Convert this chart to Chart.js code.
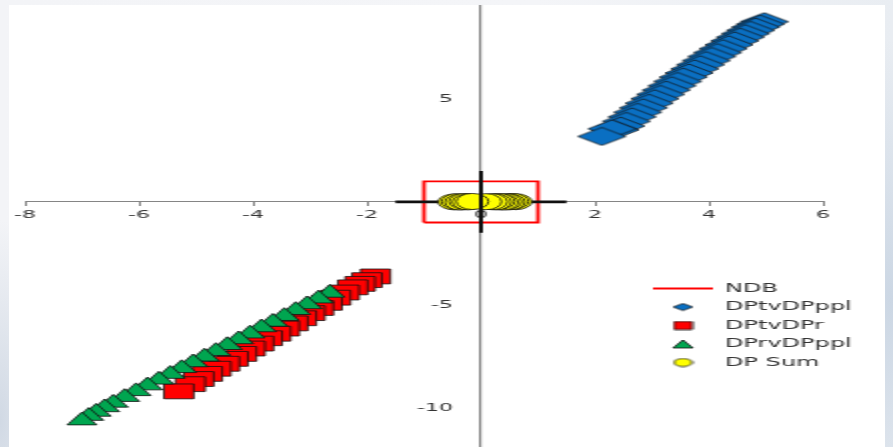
<!DOCTYPE html>
<html>
<head>
<meta charset="utf-8">
<script src="https://cdn.jsdelivr.net/npm/chart.js@4.4.1/dist/chart.umd.min.js"></script>
<style>
  html, body { margin: 0; padding: 0; }
  body {
    width: 893px; height: 447px; overflow: hidden; position: relative;
    background:
      radial-gradient(ellipse 120px 260px at 893px 300px, rgba(200,212,226,0.9), rgba(200,212,226,0) 100%),
      radial-gradient(ellipse 60px 200px at 0px 420px, rgba(205,214,226,0.9), rgba(205,214,226,0) 100%),
      linear-gradient(90deg, #f3f4f7 0%, #f4f5f8 60%, #e9edf2 100%);
  }
  /* the chart is laid out narrow and stretched horizontally */
  #frame {
    position: absolute; left: 9px; top: 5px;
    width: 438px; height: 442px;
    background: #ffffff;
    transform: scale(2, 1); transform-origin: 0 0;
  }
  canvas { display: block; }
</style>
</head>
<body>
<div id="frame"><canvas id="chart" width="438" height="442"></canvas></div>
<script>
// ---- data ----
const seriesNames = ['NDB', 'DPtvDPppl', 'DPtvDPr', 'DPrvDPppl', 'DP Sum'];

// NDB boundary box
const ndbX = [-1, -1, 1, 1, -1];
const ndbY = [-1, 1, 1, -1, -1];

// DPtvDPppl
const dptvDPpplX = [4.97, 4.90, 4.82, 4.73, 4.64, 4.55, 4.45, 4.35, 4.25, 4.15, 4.05, 3.95, 3.85, 3.75, 3.65,
                    3.55, 3.45, 3.35, 3.25, 3.15, 3.05, 2.95, 2.85, 2.75, 2.65, 2.55, 2.45, 2.35, 2.30, 2.12];
const dptvDPpplY = [8.75, 8.63, 8.49, 8.33, 8.17, 8.00, 7.82, 7.63, 7.44, 7.25, 7.06, 6.86, 6.66, 6.46, 6.26,
                    6.06, 5.85, 5.64, 5.43, 5.22, 5.01, 4.79, 4.57, 4.35, 4.13, 3.91, 3.68, 3.50, 3.55, 3.18];

// DPtvDPr
const dptvDPrX = [-1.85, -2.00, -2.12, -2.25, -2.40, -2.55, -2.70, -2.85, -3.00, -3.15, -3.30, -3.45,
                  -3.60, -3.75, -3.90, -4.05, -4.20, -4.35, -4.50, -4.65, -4.80, -4.95, -5.10, -5.30];
const dptvDPrY = [-3.62, -3.80, -3.98, -4.15, -4.40, -4.65, -4.90, -5.15, -5.40, -5.65, -5.90, -6.15,
                  -6.40, -6.62, -6.88, -7.12, -7.38, -7.62, -7.86, -8.10, -8.35, -8.60, -8.85, -9.20];

// DPrvDPppl
const dprvDPpplX = [-2.65, -2.85, -3.05, -3.25, -3.45, -3.65, -3.85, -4.05, -4.25, -4.45, -4.65, -4.85,
                    -5.05, -5.25, -5.45, -5.65, -5.85, -6.05, -6.25, -6.45, -6.60, -6.75, -6.88, -7.00];
const dprvDPpplY = [-4.42, -4.70, -4.98, -5.26, -5.55, -5.83, -6.10, -6.40, -6.68, -6.96, -7.25, -7.52,
                    -7.80, -8.08, -8.36, -8.64, -8.92, -9.20, -9.48, -9.76, -9.98, -10.20, -10.40, -10.62];

// DP Sum
const dpSumX = [0.61, 0.55, 0.49, 0.43, 0.37, 0.31, 0.25, 0.18, -0.47, -0.41, -0.35, -0.28, -0.22, 0.08, -0.15];
const dpSumY = [0.01, 0.02, 0.00, 0.01, -0.01, 0.02, 0.00, 0.01, 0.00, 0.01, -0.01, 0.02, 0.00, 0.01, 0.02];

// cross marking the origin
const crossHX = [-1.5, 1.5];
const crossHY = [0, 0];
const crossVX = [0, 0];
const crossVY = [-1.5, 1.5];

// axes
const xMin = -8, xMax = 6;
const yMin = -11.9, yMax = 9.56;
const xTickValues = [-8, -6, -4, -2, 0, 2, 4, 6];
const yTickValues = [-10, -5, 5];

// ---- helpers ----
const pts = (xs, ys) => xs.map((x, i) => ({ x: x, y: ys[i] }));

// marker images (diamond markers in the plot, all markers in the legend)
function markerImage(shape, w, h, fill, lw) {
  const c = document.createElement('canvas');
  c.width = Math.ceil(w + 2); c.height = Math.ceil(h + 2);
  const g = c.getContext('2d');
  const cx = c.width / 2, cy = c.height / 2;
  g.beginPath();
  if (shape === 'diamond') {
    g.moveTo(cx, cy - h / 2); g.lineTo(cx + w / 2, cy); g.lineTo(cx, cy + h / 2); g.lineTo(cx - w / 2, cy);
  } else if (shape === 'square') {
    g.rect(cx - w / 2, cy - h / 2, w, h);
  } else if (shape === 'triangle') {
    g.moveTo(cx, cy - h / 2); g.lineTo(cx + w / 2, cy + h / 2); g.lineTo(cx - w / 2, cy + h / 2);
  } else {
    g.ellipse(cx, cy, w / 2, h / 2, 0, 0, Math.PI * 2);
  }
  g.closePath();
  g.fillStyle = fill; g.fill();
  g.lineWidth = lw; g.strokeStyle = '#111111'; g.stroke();
  return c;
}

const blue = '#0a6fc2', red = '#ff0000', green = '#00a650', yellow = '#ffff00';
const diamondMarker = markerImage('diamond', 24, 18, blue, 0.8);
const legendImages = [
  null,
  markerImage('diamond', 10, 7, blue, 0.8),
  markerImage('square', 9, 8, red, 0.8),
  markerImage('triangle', 10, 8, green, 0.8),
  markerImage('ellipse', 9, 8, yellow, 0.8)
];

const zeroPadding = (scale) => {
  scale.paddingTop = 0; scale.paddingBottom = 0;
  scale.paddingLeft = 0; scale.paddingRight = 0;
};

// labels of an axis crossing at a value get no tick padding, so move them off the line
const yLabelGap = 14;
const shiftYLabels = (scale) => {
  if (scale._labelShifted) return;
  const base = Object.getPrototypeOf(scale)._computeLabelItems;
  scale._computeLabelItems = function (chartArea) {
    const items = base.call(this, chartArea);
    items.forEach(it => { it.options.translation[0] -= yLabelGap; });
    return items;
  };
  scale._labelShifted = true;
};

const tickFont = { family: 'DejaVu Sans', size: 11 };
const axisGrey = '#858585';
const textGrey = '#333333';

// places the legend beside the lower right quadrant
const legendPlacer = {
  id: 'legendPlacer',
  afterLayout(chart) {
    const lg = chart.legend;
    if (!lg) return;
    lg.left = 315.5;
    lg.top = 271;
    lg.right = chart.width;
    lg.bottom = chart.height;
  }
};

new Chart(document.getElementById('chart'), {
  type: 'scatter',
  data: {
    datasets: [
      {
        label: seriesNames[0], data: pts(ndbX, ndbY), showLine: true,
        borderColor: red, borderWidth: 1.8, pointRadius: 0, pointStyle: 'line',
        pointBorderColor: red, pointBorderWidth: 1.8, order: 6
      },
      {
        label: seriesNames[1], data: pts(dptvDPpplX, dptvDPpplY),
        pointStyle: diamondMarker, pointRadius: 10, backgroundColor: blue,
        borderColor: '#141414', borderWidth: 0.8, order: 5
      },
      {
        label: seriesNames[2], data: pts(dptvDPrX, dptvDPrY),
        pointStyle: 'rect', pointRadius: 10.5, backgroundColor: red,
        borderColor: '#111111', borderWidth: 0.8, order: 4
      },
      {
        label: seriesNames[3], data: pts(dprvDPpplX, dprvDPpplY),
        pointStyle: 'triangle', pointRadius: 8.5, backgroundColor: green,
        borderColor: '#111111', borderWidth: 0.8, order: 3
      },
      {
        label: seriesNames[4], data: pts(dpSumX, dpSumY),
        pointStyle: 'circle', pointRadius: 8, backgroundColor: yellow,
        borderColor: '#111111', borderWidth: 0.8, order: 1
      },
      {
        label: 'crossH', data: pts(crossHX, crossHY), showLine: true,
        borderColor: '#111111', borderWidth: 2.6, pointRadius: 0, order: 2
      },
      {
        label: 'crossV', data: pts(crossVX, crossVY), showLine: true,
        borderColor: '#111111', borderWidth: 2.0, pointRadius: 0, order: 0
      }
    ]
  },
  options: {
    responsive: false,
    animation: false,
    devicePixelRatio: 1,
    layout: { autoPadding: false, padding: { left: 8, right: 31, top: 0, bottom: 0 } },
    plugins: {
      tooltip: { enabled: false },
      legend: {
        position: 'chartArea',
        align: 'start',
        labels: {
          usePointStyle: true,
          pointStyleWidth: 30,
          boxHeight: 7,
          padding: 6.5,
          color: textGrey,
          font: { family: 'DejaVu Sans', size: 12 },
          sort: (a, b) => a.datasetIndex - b.datasetIndex,
          generateLabels(chart) {
            const items = Chart.defaults.plugins.legend.labels.generateLabels(chart)
              .filter(it => it.datasetIndex < seriesNames.length);
            items.forEach(it => {
              if (legendImages[it.datasetIndex]) it.pointStyle = legendImages[it.datasetIndex];
            });
            return items;
          }
        }
      }
    },
    scales: {
      x: {
        type: 'linear', position: { y: 0 }, min: xMin, max: xMax,
        afterBuildTicks: (s) => { s.ticks = xTickValues.map(v => ({ value: v })); },
        afterFit: zeroPadding,
        grid: { drawOnChartArea: false, drawTicks: true, tickLength: 4, color: axisGrey, tickColor: axisGrey, lineWidth: 1 },
        border: { color: axisGrey, width: 1 },
        ticks: { font: tickFont, color: textGrey, padding: 3, maxRotation: 0, autoSkip: false }
      },
      y: {
        type: 'linear', position: { x: 0 }, min: yMin, max: yMax,
        afterBuildTicks: (s) => { s.ticks = yTickValues.map(v => ({ value: v })); shiftYLabels(s); },
        afterFit: zeroPadding,
        grid: { drawOnChartArea: false, drawTicks: false },
        border: { color: axisGrey, width: 1.2 },
        ticks: { font: tickFont, color: textGrey, padding: 0, autoSkip: false }
      }
    }
  },
  plugins: [legendPlacer]
});
</script>
</body>
</html>
